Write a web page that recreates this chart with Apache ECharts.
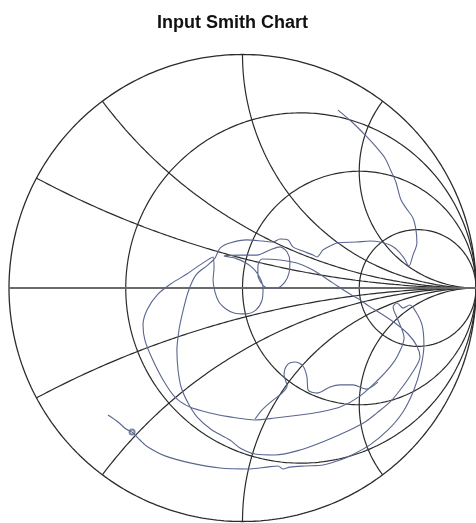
<!DOCTYPE html>
<html>
<head>
<meta charset="utf-8">
<title>Input Smith Chart</title>
<script src="https://cdn.jsdelivr.net/npm/echarts/dist/echarts.min.js"></script>
<style>
  html, body { margin: 0; padding: 0; background: #fff; }
  #chart { width: 476px; height: 523px; }
</style>
</head>
<body>
<div id="chart"></div>
<script>
  // grid values of the smith chart
  var resistanceCircles = [1 / 3, 1, 3]
  var reactanceArcs = [0.25, 0.5, 1, 2]

  var traceRe = [
    -0.576, -0.533, -0.499, -0.473, -0.439, -0.405, -0.332, -0.225, -0.096, 0.032,
    0.105, 0.152, 0.173, 0.203, 0.268, 0.345, 0.418, 0.469, 0.546, 0.623,
    0.687, 0.734, 0.764, 0.777, 0.769, 0.743, 0.717, 0.687, 0.662, 0.645,
    0.666, 0.692,
    0.666, 0.632, 0.580, 0.503, 0.418, 0.332, 0.246, 0.139, 0.054,
    -0.054, -0.139, -0.225, -0.289, -0.340, -0.388, -0.418, -0.426, -0.409, -0.366,
    -0.302, -0.238, -0.182, -0.126,
    -0.122, -0.126, -0.118, -0.101, -0.071, -0.036, 0.015, 0.058, 0.084, 0.088,
    0.075, 0.049, 0.015, -0.032, -0.079, -0.011,
    0.062, 0.118, 0.161, 0.191, 0.203, 0.199, 0.182, 0.148, 0.109, 0.084,
    0.066, 0.066, 0.084,
    0.161, 0.233, 0.302, 0.388, 0.460, 0.503, 0.546, 0.589, 0.653, 0.709,
    0.747, 0.760,
    0.726, 0.675, 0.632, 0.576, 0.525, 0.460, 0.353, 0.246, 0.139, 0.054,
    -0.011, -0.054, -0.131, -0.195, -0.233, -0.263, -0.276, -0.281, -0.272, -0.259,
    -0.233, -0.199, -0.148, -0.118,
    -0.096, -0.054, 0.019, 0.088, 0.131, 0.161, 0.195, 0.216, 0.259, 0.302,
    0.319, 0.345, 0.375, 0.405, 0.490, 0.546, 0.589, 0.632, 0.662, 0.692,
    0.713,
    0.730, 0.747, 0.743, 0.730, 0.700, 0.679, 0.666, 0.657, 0.636, 0.610,
    0.572, 0.529, 0.469, 0.409
  ]
  var traceIm = [
    -0.544, -0.574, -0.604, -0.617, -0.651, -0.681, -0.719, -0.749, -0.771, -0.775,
    -0.767, -0.762, -0.775, -0.767, -0.762, -0.758, -0.737, -0.715, -0.672, -0.608,
    -0.531, -0.437, -0.338, -0.244, -0.158, -0.103, -0.073, -0.086, -0.064, -0.081,
    -0.137, -0.214,
    -0.287, -0.338, -0.394, -0.463, -0.510, -0.531, -0.544, -0.557, -0.565,
    -0.552, -0.535, -0.510, -0.467, -0.394, -0.300, -0.223, -0.158, -0.094, -0.030,
    0.021, 0.060, 0.099, 0.133,
    0.086, 0.034, -0.017, -0.060, -0.090, -0.107, -0.111, -0.094, -0.051, 0,
    0.043, 0.081, 0.107, 0.128, 0.137, 0.141,
    0.141, 0.163, 0.176, 0.154, 0.111, 0.064, 0.026, 0, 0, 0.017,
    0.056, 0.094, 0.124,
    0.120, 0.107, 0.077, 0.021, -0.026, -0.051, -0.081, -0.107, -0.150, -0.197,
    -0.248, -0.296,
    -0.364, -0.437, -0.488, -0.535, -0.574, -0.608, -0.655, -0.694, -0.715, -0.711,
    -0.685, -0.651, -0.608, -0.552, -0.493, -0.424, -0.351, -0.266, -0.180, -0.116,
    -0.017, 0.056, 0.099, 0.128,
    0.171, 0.193, 0.206, 0.201, 0.197, 0.210, 0.206, 0.176, 0.158, 0.141,
    0.133, 0.163, 0.180, 0.193, 0.197, 0.201, 0.197, 0.184, 0.163, 0.128,
    0.094,
    0.141, 0.193, 0.248, 0.300, 0.343, 0.377, 0.420, 0.454, 0.501, 0.557,
    0.604, 0.651, 0.711, 0.762
  ]

  // small loop below the centre, joins the main trace at both ends
  var loopRe = [0.054, 0.084, 0.131, 0.165, 0.191, 0.178, 0.191, 0.225, 0.259, 0.276,
    0.281, 0.319, 0.375, 0.418, 0.473, 0.529, 0.580]
  var loopIm = [-0.561, -0.522, -0.480, -0.454, -0.420, -0.373, -0.330, -0.317, -0.334, -0.381,
    -0.437, -0.450, -0.424, -0.415, -0.415, -0.433, -0.403]

  // start point marker
  var markerRe = [-0.473]
  var markerIm = [-0.617]

  function gamma(r, x) {
    var d = (r + 1) * (r + 1) + x * x
    return [(r * r + x * x - 1) / d, 2 * x / d]
  }

  function rCircle(r) {
    var pts = []
    for (var i = 0; i <= 400; i++) {
      var t = -Math.PI / 2 + 0.0001 + (Math.PI - 0.0002) * i / 400
      pts.push(gamma(r, Math.tan(t)))
    }
    return pts
  }

  function xArc(x) {
    var pts = []
    for (var i = 0; i <= 300; i++) {
      var t = (Math.PI / 2 - 0.0001) * i / 300
      pts.push(gamma(Math.tan(t), x))
    }
    return pts
  }

  function zip(a, b) {
    return a.map(function (v, i) { return [v, b[i]] })
  }

  var gridColor = '#2b2b2b'
  var traceColor = '#5a6690'
  var series = []

  function gridLine(data, color, width) {
    series.push({
      type: 'line',
      data: data,
      showSymbol: false,
      silent: true,
      clip: false,
      lineStyle: { color: color || gridColor, width: width || 1.2 }
    })
  }

  gridLine(rCircle(0), gridColor, 1.3)
  resistanceCircles.forEach(function (r) { gridLine(rCircle(r)) })
  reactanceArcs.forEach(function (x) {
    gridLine(xArc(x))
    gridLine(xArc(-x))
  })
  gridLine([[-1, 0], [1, 0]], '#6a6a6a', 2)

  series.push({
    type: 'line',
    data: zip(traceRe, traceIm),
    showSymbol: false,
    smooth: 0.3,
    lineStyle: { color: traceColor, width: 1.1 }
  })
  series.push({
    type: 'line',
    data: zip(loopRe, loopIm),
    showSymbol: false,
    smooth: 0.3,
    lineStyle: { color: traceColor, width: 1.1 }
  })
  series.push({
    type: 'scatter',
    data: zip(markerRe, markerIm),
    symbol: 'emptyCircle',
    symbolSize: 5,
    itemStyle: { color: traceColor, borderWidth: 1 }
  })

  var chart = echarts.init(document.getElementById('chart'))
  chart.setOption({
    animation: false,
    backgroundColor: '#fff',
    title: {
      text: 'Input Smith Chart',
      left: 152,
      top: 9,
      textStyle: {
        fontFamily: '"Liberation Sans Narrow", "Liberation Sans", Arial, sans-serif',
        fontWeight: 'bold',
        fontSize: 18,
        color: '#111'
      }
    },
    grid: {
      left: 9,
      top: 54.5,
      width: 467,
      height: 467
    },
    xAxis: {
      type: 'value',
      min: -1,
      max: 1,
      show: false
    },
    yAxis: {
      type: 'value',
      min: -1,
      max: 1,
      show: false
    },
    series: series
  })
</script>
</body>
</html>
